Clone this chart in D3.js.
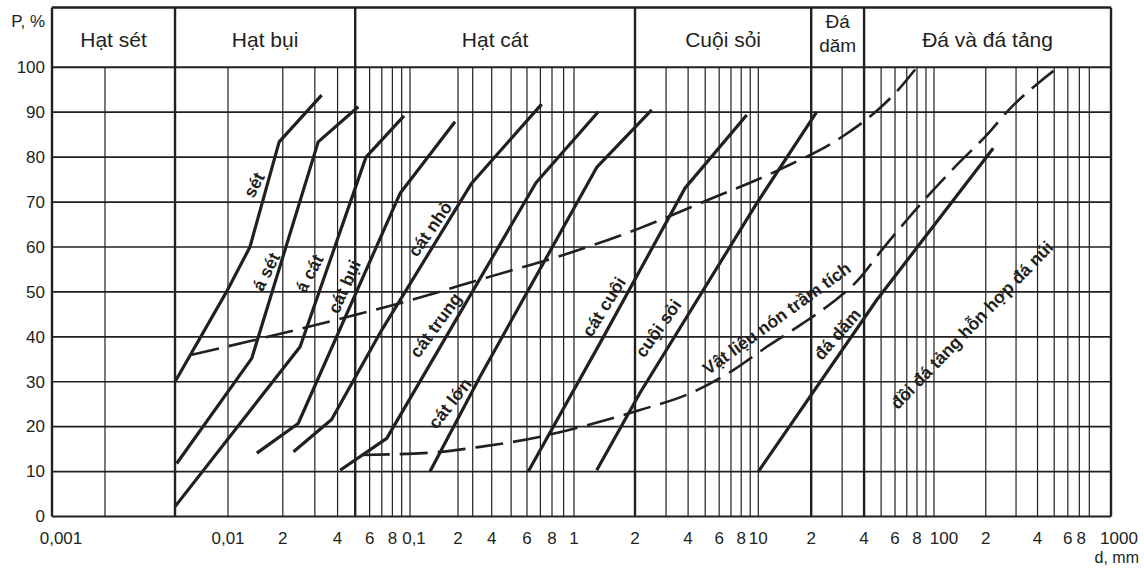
<!DOCTYPE html>
<html>
<head>
<meta charset="utf-8">
<script src="https://cdn.jsdelivr.net/npm/d3@7/dist/d3.min.js"></script>
<style>
  body { margin: 0; background: #fff; }
  svg { display: block; font-family: "Liberation Sans", Arial, sans-serif; }
</style>
</head>
<body>
<svg id="chart" width="1144" height="571"></svg>
<script>
// zones of the header (d, mm)
const zoneNames = ['Hạt sét', 'Hạt bụi', 'Hạt cát', 'Cuội sỏi', 'Đá|dăm', 'Đá và đá tảng'];
const zoneBreaks = [0.001, 0.005, 0.05, 2, 20, 40, 1000];

// thin grid lines on the log axis
const gridD = [0.002, 0.01, 0.02, 0.03, 0.04, 0.06, 0.07, 0.08, 0.09, 0.1,
  0.2, 0.3, 0.4, 0.5, 0.6, 0.7, 0.8, 0.9, 1, 3, 4, 5, 6, 7, 8, 9, 10,
  30, 50, 60, 70, 80, 90, 100, 200, 300, 400, 500, 600, 700, 800];

const tickD = [0.001, 0.01, 0.02, 0.04, 0.06, 0.08, 0.1, 0.2, 0.4, 0.6, 0.8, 1,
  2, 4, 6, 8, 10, 20, 40, 60, 80, 100, 200, 400, 600, 800, 1000];
const tickText = ['0,001', '0,01', '2', '4', '6', '8', '0,1', '2', '4', '6', '8', '1',
  '2', '4', '6', '8', '10', '2', '4', '6', '8', '100', '2', '4', '6', '8', '1000'];
const yTicks = [0, 10, 20, 30, 40, 50, 60, 70, 80, 90, 100];

// solid grading curves: d (mm) and P (%)
const curveNames = ['sét', 'á sét', 'á cát', 'cát bụi', 'cát nhỏ', 'cát trung',
  'cát lớn', 'cát cuội', 'cuội sỏi', 'đá dăm'];
const curveD = [
  [0.005, 0.0098, 0.0132, 0.0191, 0.0327],
  [0.00511, 0.0135, 0.0313, 0.052],
  [0.005, 0.0249, 0.0573, 0.0927],
  [0.0144, 0.0243, 0.0881, 0.1915],
  [0.0229, 0.0371, 0.0699, 0.2917, 0.7105],
  [0.0413, 0.0745, 0.1781, 0.6655, 1.318],
  [0.1335, 0.335, 1.294, 2.487],
  [0.609, 1.344, 3.842, 8.6],
  [1.294, 2.133, 9.79, 21.5],
  [10, 47.2, 221]
];
const curveP = [
  [30, 50, 60, 83.4, 93.8],
  [11.8, 35.2, 83.4, 91.2],
  [2.2, 37.8, 80, 89.2],
  [14.1, 20.7, 71.9, 87.9],
  [14.4, 21.6, 41.5, 74.2, 91.8],
  [10.3, 17.4, 41.5, 74.3, 90.1],
  [10, 31.1, 77.7, 90.5],
  [10, 38.6, 73.1, 89.4],
  [10.3, 27.5, 69.7, 90.1],
  [10, 48.2, 82]
];

// dashed curves
const dashD = [
  [0.00622, 0.0234, 0.0881, 0.39, 0.897, 2.133, 5.21, 13, 31.8, 48.2, 60, 80],
  [0.0543, 0.1335, 0.335, 0.724, 1.223, 2.133, 4.1, 7.22, 11.2, 17.3, 26.7, 36.9, 50.4, 71.4, 99.2, 138.5, 198, 283, 413, 528]
];
const dashP = [
  [36, 41.5, 47.5, 53.4, 58.2, 64.2, 70.5, 77.1, 85.2, 90.6, 94.2, 100],
  [13.7, 14.2, 15.5, 17.9, 20.6, 23.7, 27.4, 32.6, 37.8, 42.6, 47.8, 52.6, 59.3, 66.4, 72.7, 78.6, 84.5, 91.2, 96.8, 100]
];

// curve labels
const labelText = ['sét', 'á sét', 'á cát', 'cát bụi', 'cát nhỏ', 'cát trung', 'cát lớn',
  'cát cuội', 'cuội sỏi', 'Vật liệu nón trầm tích', 'đá dăm', 'đồi đá tảng hỗn hợp đá núi'];
const labelD = [0.0139, 0.0162, 0.028, 0.0436, 0.1335, 0.1449, 0.1781, 1.406, 2.711, 12.73, 28.2, 165.7];
const labelP = [73.8, 54.5, 54.1, 51.2, 64, 42.6, 25.2, 46.7, 41.9, 44.1, 40.6, 42.6];
const labelAngle = [-62, -63, -62, -66, -55, -54, -52, -58, -55, -36, -49, -46];

const ink = '#231f20';
const svg = d3.select('#chart');

// log axis, calibrated to the printed grid of the original
const x = d3.scaleLog()
  .domain([0.001, 0.01, 0.1, 0.2, 0.3, 0.4, 0.8, 1, 2, 10, 100, 800, 1000])
  .range([52, 228, 410, 458, 472.7, 491.7, 552, 574, 635, 758.3, 934, 1089.3, 1111]);
const y = d3.scaleLinear().domain([0, 100]).range([516.5, 67.3]);
const headTop = 7.5;

const grid = svg.append('g');

// horizontal grid
grid.selectAll('line.h')
  .data(yTicks)
  .enter().append('line')
  .attr('x1', x(0.001)).attr('x2', x(1000))
  .attr('y1', d => y(d)).attr('y2', d => y(d))
  .attr('stroke', ink)
  .attr('stroke-width', d => d === 0 || d === 100 ? 2 : 1.7);

// thin verticals
grid.selectAll('line.v')
  .data(gridD)
  .enter().append('line')
  .attr('x1', d => x(d)).attr('x2', d => x(d))
  .attr('y1', y(100)).attr('y2', y(0))
  .attr('stroke', ink)
  .attr('stroke-width', 1.2);

// zone boundaries run through header and plot
grid.selectAll('line.z')
  .data(zoneBreaks)
  .enter().append('line')
  .attr('x1', d => x(d)).attr('x2', d => x(d))
  .attr('y1', headTop).attr('y2', y(0))
  .attr('stroke', ink)
  .attr('stroke-width', 2.4);

grid.append('line')
  .attr('x1', x(0.001)).attr('x2', x(1000))
  .attr('y1', headTop).attr('y2', headTop)
  .attr('stroke', ink).attr('stroke-width', 2.4);

// header text
const head = svg.append('g').attr('fill', ink);
zoneNames.forEach((name, i) => {
  const cx = (x(zoneBreaks[i]) + x(zoneBreaks[i + 1])) / 2;
  const parts = name.split('|');
  if (parts.length === 1) {
    head.append('text')
      .attr('x', cx).attr('y', 46.5)
      .attr('text-anchor', 'middle')
      .attr('font-size', 21)
      .text(name);
  } else {
    head.append('text')
      .attr('x', cx).attr('y', 28)
      .attr('text-anchor', 'middle')
      .attr('font-size', 19)
      .text(parts[0]);
    head.append('text')
      .attr('x', cx).attr('y', 52)
      .attr('text-anchor', 'middle')
      .attr('font-size', 19)
      .text(parts[1]);
  }
});

// axis labels
const axis = svg.append('g').attr('fill', ink).attr('font-size', 17);
axis.selectAll('text.y')
  .data(yTicks)
  .enter().append('text')
  .attr('x', 45)
  .attr('y', d => y(d))
  .attr('dy', '0.34em')
  .attr('text-anchor', 'end')
  .text(d => d);

const tickShift = { 0.001: 9, 0.1: 4, 100: 10, 800: -8, 1000: 8 };
axis.selectAll('text.x')
  .data(tickD)
  .enter().append('text')
  .attr('x', d => x(d) + (tickShift[d] || 0))
  .attr('y', 544)
  .attr('text-anchor', 'middle')
  .text((d, i) => tickText[i]);

axis.append('text')
  .attr('x', 45).attr('y', 27)
  .attr('text-anchor', 'end')
  .text('P, %');
axis.append('text')
  .attr('x', 1139).attr('y', 563)
  .attr('text-anchor', 'end')
  .attr('font-size', 16)
  .text('d, mm');

// curves
const line = d3.line()
  .x(d => x(d[0]))
  .y(d => y(d[1]));

const curves = svg.append('g')
  .attr('fill', 'none')
  .attr('stroke', ink)
  .attr('stroke-linejoin', 'round');

curveNames.forEach((name, i) => {
  const pts = curveD[i].map((d, j) => [d, curveP[i][j]]);
  curves.append('path')
    .attr('d', line(pts))
    .attr('stroke-width', 3.2);
});

const smooth = d3.line()
  .x(d => x(d[0]))
  .y(d => y(d[1]))
  .curve(d3.curveMonotoneX);

dashD.forEach((ds, i) => {
  const pts = ds.map((d, j) => [d, dashP[i][j]]);
  curves.append('path')
    .attr('d', smooth(pts))
    .attr('stroke-width', 2.6)
    .attr('stroke-dasharray', '28,10');
});

// labels along the curves
svg.append('g')
  .attr('fill', ink)
  .attr('font-size', 17.5)
  .attr('font-weight', 'bold')
  .selectAll('text')
  .data(labelText)
  .enter().append('text')
  .attr('text-anchor', 'middle')
  .attr('dominant-baseline', 'central')
  .attr('transform', (d, i) => `translate(${x(labelD[i])},${y(labelP[i])}) rotate(${labelAngle[i]})`)
  .text(d => d);
</script>
</body>
</html>
